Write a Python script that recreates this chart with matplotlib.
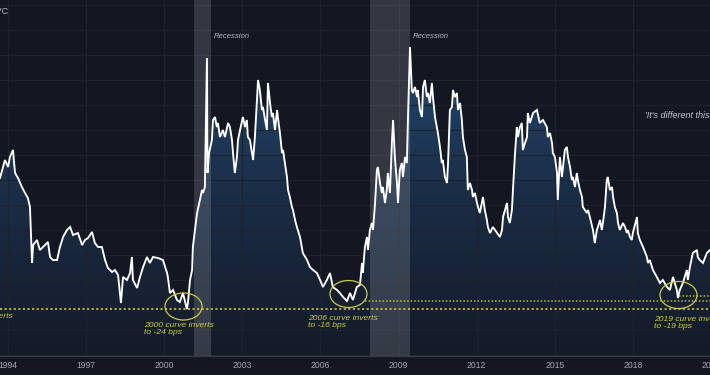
import numpy as np
import matplotlib
matplotlib.use("Agg")
import matplotlib.pyplot as plt
from matplotlib.colors import LinearSegmentedColormap
from matplotlib.patches import Ellipse
from matplotlib.transforms import offset_copy

# ---------------- data (10Y-2Y spread, basis points) ----------------
dates = [
    1993.71, 1993.90, 1994.02, 1994.09, 1994.21, 1994.25, 1994.29, 1994.40, 1994.55, 1994.67,
    1994.78, 1994.86, 1994.94, 1994.98, 1995.13, 1995.24, 1995.36, 1995.55, 1995.63, 1995.74,
    1995.90, 1996.01, 1996.13, 1996.28, 1996.40, 1996.51, 1996.70, 1996.86, 1996.97, 1997.09,
    1997.24, 1997.35, 1997.47, 1997.62, 1997.74, 1997.85, 1998.01, 1998.12, 1998.24, 1998.35,
    1998.43, 1998.58, 1998.70, 1998.77, 1998.81, 1998.97, 1999.08, 1999.20, 1999.35, 1999.46,
    1999.58, 1999.77, 1999.96, 2000.12, 2000.15, 2000.23, 2000.35, 2000.50, 2000.61, 2000.73,
    2000.88, 2000.92, 2001.00, 2001.08, 2001.11, 2001.27, 2001.38, 2001.46, 2001.50, 2001.57,
    2001.65, 2001.67, 2001.73, 2001.84, 2001.88, 2001.96, 2002.03, 2002.07, 2002.15, 2002.26,
    2002.34, 2002.46, 2002.53, 2002.61, 2002.65, 2002.72, 2002.80, 2002.84, 2002.92, 2003.03,
    2003.11, 2003.18, 2003.22, 2003.30, 2003.38, 2003.42, 2003.49, 2003.57, 2003.61, 2003.68,
    2003.76, 2003.80, 2003.88, 2003.95, 2003.99, 2004.07, 2004.14, 2004.18, 2004.26, 2004.34,
    2004.37, 2004.45, 2004.53, 2004.57, 2004.64, 2004.72, 2004.76, 2004.83, 2004.91, 2004.95,
    2005.03, 2005.10, 2005.22, 2005.29, 2005.33, 2005.49, 2005.60, 2005.72, 2005.87, 2005.99,
    2006.10, 2006.25, 2006.37, 2006.48, 2006.64, 2006.75, 2006.87, 2007.02, 2007.14, 2007.25,
    2007.40, 2007.52, 2007.60, 2007.63, 2007.71, 2007.79, 2007.83, 2007.90, 2007.98, 2008.02,
    2008.10, 2008.17, 2008.21, 2008.29, 2008.36, 2008.40, 2008.48, 2008.55, 2008.59, 2008.67,
    2008.75, 2008.79, 2008.86, 2008.94, 2008.98, 2009.05, 2009.13, 2009.17, 2009.25, 2009.32,
    2009.36, 2009.44, 2009.51, 2009.55, 2009.63, 2009.71, 2009.74, 2009.82, 2009.90, 2009.94,
    2010.01, 2010.09, 2010.13, 2010.20, 2010.28, 2010.32, 2010.40, 2010.47, 2010.51, 2010.59,
    2010.66, 2010.70, 2010.78, 2010.86, 2010.90, 2010.97, 2011.05, 2011.09, 2011.16, 2011.24,
    2011.28, 2011.36, 2011.43, 2011.47, 2011.55, 2011.62, 2011.66, 2011.74, 2011.82, 2011.85,
    2011.93, 2012.01, 2012.05, 2012.12, 2012.24, 2012.31, 2012.39, 2012.43, 2012.51, 2012.62,
    2012.78, 2012.89, 2012.97, 2013.01, 2013.16, 2013.20, 2013.27, 2013.35, 2013.39, 2013.47,
    2013.54, 2013.58, 2013.66, 2013.73, 2013.77, 2013.85, 2013.93, 2013.96, 2014.04, 2014.16,
    2014.31, 2014.42, 2014.54, 2014.69, 2014.73, 2014.81, 2014.89, 2014.92, 2015.00, 2015.08,
    2015.11, 2015.19, 2015.27, 2015.31, 2015.38, 2015.46, 2015.50, 2015.58, 2015.65, 2015.69,
    2015.77, 2015.84, 2015.88, 2015.96, 2016.04, 2016.07, 2016.23, 2016.27, 2016.34, 2016.46,
    2016.53, 2016.61, 2016.65, 2016.73, 2016.80, 2016.84, 2016.92, 2016.99, 2017.03, 2017.11,
    2017.19, 2017.23, 2017.30, 2017.38, 2017.42, 2017.49, 2017.61, 2017.69, 2017.76, 2017.80,
    2017.88, 2017.95, 2017.99, 2018.15, 2018.18, 2018.26, 2018.38, 2018.53, 2018.57, 2018.64,
    2018.76, 2018.91, 2019.03, 2019.14, 2019.30, 2019.41, 2019.53, 2019.68, 2019.72, 2019.79,
    2019.91, 2020.06, 2020.10, 2020.18, 2020.29, 2020.45, 2020.48, 2020.56, 2020.68, 2020.83,
    2020.95,
]
spread_bps = [
    107, 125, 118, 128, 135, 122, 112, 107, 98, 92,
    87, 78, 22, 40, 45, 35, 38, 43, 28, 25,
    25, 38, 48, 55, 58, 50, 52, 40, 45, 47,
    53, 42, 38, 38, 25, 17, 13, 15, 10, -18,
    8, 5, 12, 28, 5, -3, 8, 18, 28, 22,
    28, 27, 25, 12, 8, -8, -5, -15, -17, -8,
    -24, -18, 5, 15, 38, 72, 85, 95, 92, 98,
    227, 112, 132, 145, 165, 168, 158, 162, 148, 155,
    148, 162, 158, 145, 132, 112, 128, 145, 155, 168,
    158, 165, 148, 145, 132, 125, 148, 185, 205, 195,
    175, 178, 165, 155, 202, 182, 168, 172, 155, 175,
    168, 152, 132, 135, 122, 108, 95, 88, 78, 75,
    65, 58, 48, 38, 32, 25, 18, 15, 12, 5,
    -2, 5, 12, -2, -5, -8, -12, -16, -8, -15,
    -2, 0, 22, 12, 38, 48, 35, 55, 62, 55,
    82, 115, 118, 102, 92, 98, 82, 95, 112, 92,
    145, 165, 128, 102, 82, 115, 122, 108, 128, 122,
    165, 238, 195, 192, 198, 188, 195, 175, 168, 198,
    205, 188, 192, 182, 202, 188, 168, 158, 152, 138,
    122, 125, 108, 102, 122, 175, 178, 195, 188, 192,
    175, 182, 165, 148, 135, 128, 95, 102, 95, 88,
    92, 82, 78, 72, 88, 75, 65, 58, 52, 58,
    52, 48, 55, 68, 82, 68, 62, 75, 95, 132,
    158, 148, 158, 162, 135, 142, 148, 172, 162, 172,
    175, 162, 165, 158, 148, 152, 142, 132, 128, 112,
    85, 128, 108, 118, 135, 138, 128, 118, 105, 108,
    98, 112, 105, 95, 88, 78, 72, 75, 68, 55,
    42, 55, 58, 65, 55, 62, 78, 105, 108, 95,
    98, 88, 78, 72, 62, 55, 62, 58, 52, 55,
    48, 45, 52, 68, 52, 45, 38, 28, 22, 25,
    15, 8, 2, 5, -2, -5, 8, -5, -13, -5,
    2, 15, 5, 18, 32, 35, 28, 25, 22, 32,
    35,
]

recession_start = [2001.16, 2007.92]
recession_end = [2001.80, 2009.45]

inversion_years = [2000.75, 2007.08, 2019.74]
inversion_centers_bps = [-21.5, -9, -10]
inversion_texts = ["2000 curve inverts\nto -24 bps",
                   "2006 curve inverts\nto -16 bps",
                   "2019 curve inverts\nto -19 bps"]
inversion_levels_bps = [-24, -16, -11]

year_ticks = [1994, 1997, 2000, 2003, 2006, 2009, 2012, 2015, 2018]
year_labels = [str(y) for y in year_ticks]

# ---------------- style ----------------
BG = "#131722"
GRID = "#1e222d"
YEL = "#cccb3e"
TXT = "#a3a6af"

fig = plt.figure(figsize=(7.1, 3.75), dpi=100, facecolor=BG)
ax = fig.add_axes([0, 19 / 375, 1, 356 / 375], facecolor=BG)

x0, x1 = 1993.71, 2020.95
ymin, ymax = -71, 285
ax.set_xlim(x0, x1)
ax.set_ylim(ymin, ymax)

# grid
ax.set_yticks(np.arange(-70, 281, 25))
ax.set_xticks(year_ticks)
ax.set_xticklabels(year_labels)
ax.grid(True, color=GRID, lw=0.9, zorder=0)
ax.tick_params(axis="y", left=False, labelleft=False)
ax.tick_params(axis="x", length=0, pad=3.6, labelsize=6.2, labelcolor=TXT)
for lab in ax.get_xticklabels():
    lab.set_family(["Liberation Sans", "DejaVu Sans"])
for s in ["top", "left", "right"]:
    ax.spines[s].set_visible(False)
ax.spines["bottom"].set_color("#363a45")
ax.spines["bottom"].set_linewidth(1.0)

# gradient area fill
poly = ax.fill_between(dates, spread_bps, ymin, color="none", lw=0)
cmap = LinearSegmentedColormap.from_list("g", ["#141a27", "#1a2d46", "#234a73"])
grad = np.linspace(0, 1, 256).reshape(-1, 1)
im = ax.imshow(grad, extent=[x0, x1, ymin, 250], origin="lower", aspect="auto",
               cmap=cmap, zorder=1, interpolation="bicubic")
im.set_clip_path(poly.get_paths()[0], transform=ax.transData)
ax.set_xlim(x0, x1)
ax.set_ylim(ymin, ymax)

# recession bands
for a, b in zip(recession_start, recession_end):
    ax.axvspan(a, b, color="white", alpha=0.14, lw=0, zorder=2)

# line
ax.plot(dates, spread_bps, color="white", lw=1.35, zorder=3, solid_joinstyle="miter")

# inversion dotted levels
ax.axhline(inversion_levels_bps[0], color=YEL, lw=1.5, ls=(0, (1, 1.2)), alpha=0.85, zorder=4)
ax.hlines(inversion_levels_bps[1], 2007.71, x1, color=YEL, lw=1.1, ls=(0, (1, 1.3)), alpha=0.9, zorder=4)
ax.hlines(inversion_levels_bps[2], 2019.76, x1, color=YEL, lw=1.1, ls=(0, (1, 1.3)), alpha=0.9, zorder=4)

# ellipses
for xc, yc in zip(inversion_years, inversion_centers_bps):
    ax.add_patch(Ellipse((xc, yc), 1.42, 27, fill=False, ec=YEL, lw=0.9, zorder=5))

italic = dict(family=["Liberation Sans", "DejaVu Sans"], style="italic")
text_pos = [(1999.23, -37), (2005.53, -30), (2018.80, -31)]
for (tx, ty), t in zip(text_pos, inversion_texts):
    ax.text(tx, ty, t, color=YEL, fontsize=6.1, va="top", ha="left",
            linespacing=0.95, zorder=6, **italic)
ax.text(1994.21, -32, "1998 curve inverts", color=YEL, fontsize=6.1, va="center",
        ha="right", zorder=6, **italic)

# recession labels
for xr in [2001.92, 2009.55]:
    ax.text(xr, 249, "Recession", color="#b2b5be", fontsize=5.6, va="center",
            ha="left", zorder=6, **italic)
ax.text(2018.45, 170, "'It's different this time'", color="#c3c6ce", fontsize=6.5,
        va="center", ha="left", zorder=6, **italic)

# symbol title (cut at left edge)
ax.text(8 / 710, 1 - 11 / 356, "US10Y-US02Y, 1W, TVC", transform=ax.transAxes,
        color="#b2b5be", fontsize=6.5, ha="right", va="center",
        family=["Liberation Sans", "DejaVu Sans"])

# tick label for 2021 at the right edge (partially visible)
tr = offset_copy(ax.get_xaxis_transform(), fig=fig, y=-3.6, units="points")
ax.text(2021, 0, "2021", transform=tr, ha="center", va="top", fontsize=6.2,
        color=TXT, clip_on=False, family=["Liberation Sans", "DejaVu Sans"])

fig.savefig("out.png", dpi=100, facecolor=BG)
